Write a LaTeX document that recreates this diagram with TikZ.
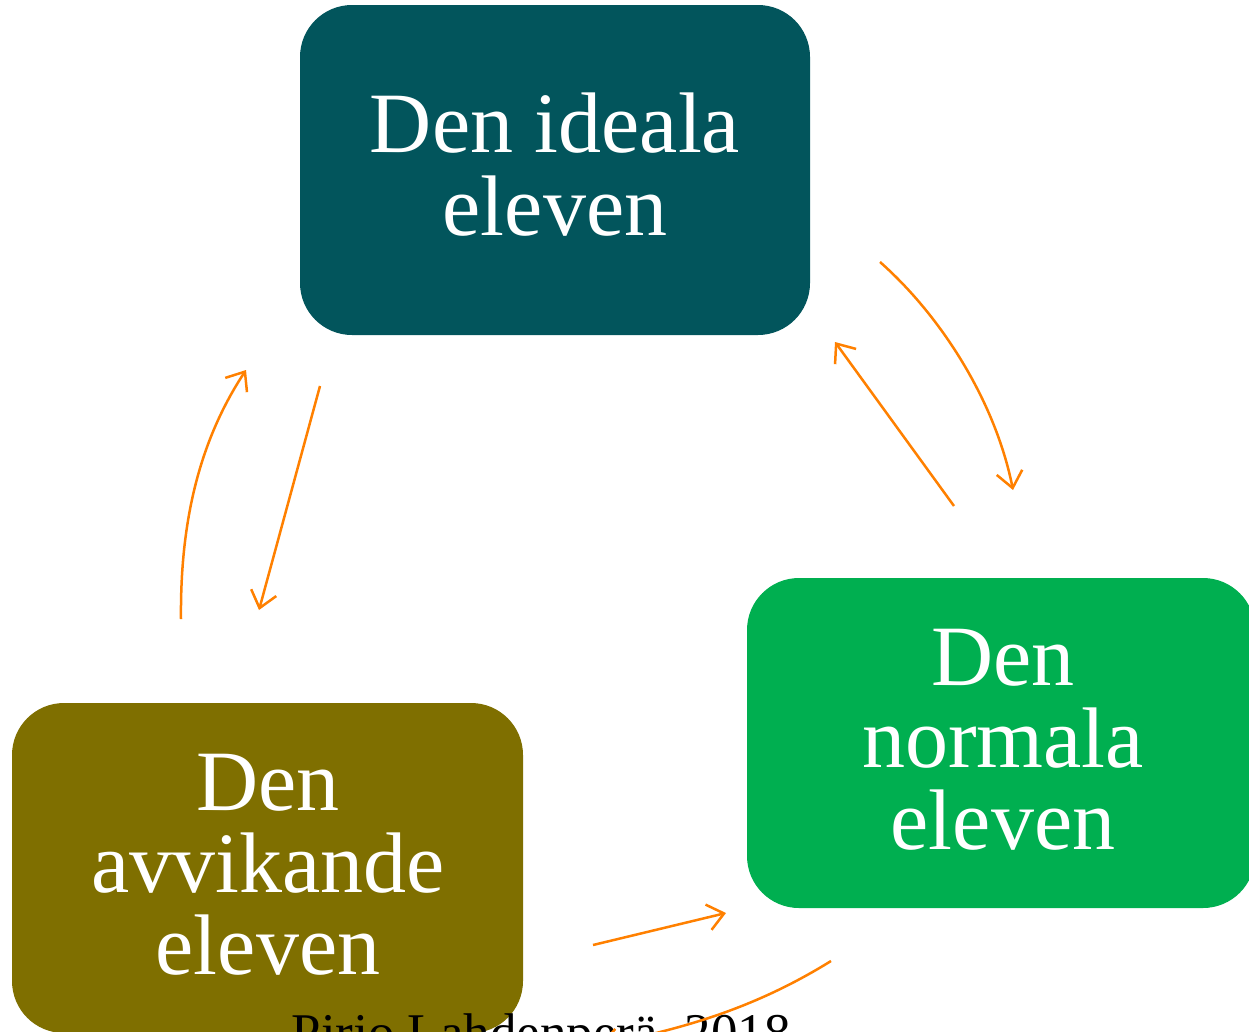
\documentclass[tikz,border=0pt]{standalone}
\usepackage{fontspec}
\setmainfont{Liberation Serif}
\usetikzlibrary{arrows.meta}
\definecolor{idealc}{HTML}{02555C}
\definecolor{avvc}{HTML}{7F6F00}
\definecolor{normc}{HTML}{00AF50}
\definecolor{arrc}{HTML}{FF8000}
\begin{document}
\begin{tikzpicture}[x=1pt,y=-1pt,
  box/.style={rounded corners=52pt, minimum width=510pt, minimum height=330pt, inner sep=0pt, draw=none},
  boxtext/.style={text=white, font=\fontsize{86}{83}\selectfont, anchor=base, inner sep=0pt},
  conn/.style={draw=arrc, line width=2.5pt, -{Straight Barb[length=16pt,width=26pt]}}]
\useasboundingbox (0,0) rectangle (1249,1031);
% boxes
\node[box, fill=idealc] (ideal) at (555,170) {};
\node[box, fill=normc, minimum width=508pt] (normal) at (1001,743) {};
\node[box, fill=avvc, minimum width=511pt] (avv) at (267.5,868) {};
% texts
\node[boxtext] (i1) at (555,152) {Den ideala};
\node[boxtext] (i2) at (555,235) {eleven};
\node[boxtext] (n1) at (1003,685) {Den};
\node[boxtext] (n2) at (1003,767) {normala};
\node[boxtext] (n3) at (1003,849) {eleven};
\node[boxtext] (a1) at (268,810) {Den};
\node[boxtext] (a2) at (268,892) {avvikande};
\node[boxtext] (a3) at (268,974) {eleven};
\node[anchor=base, inner sep=0pt, font=\fontsize{53}{60}\selectfont] (author) at (541,1050) {Pirjo Lahdenperä, 2018};
% connector end points
\coordinate (c1s) at (181,619); \coordinate (c1e) at (246,370);
\coordinate (c2s) at (320,386); \coordinate (c2e) at (259,610);
\coordinate (c3s) at (880,262); \coordinate (c3e) at (1013,490);
\coordinate (c4s) at (954,506); \coordinate (c4e) at (835,342);
\coordinate (c5s) at (593,945); \coordinate (c5e) at (726,913);
\coordinate (c6s) at (831,961); \coordinate (c6e) at (600,1045);
% connectors
\draw[conn] (c1s) .. controls (180,520) and (200,440) .. (c1e);
\draw[conn] (c2s) -- (c2e);
\draw[conn] (c3s) .. controls (940,315) and (995,400) .. (c3e);
\draw[conn] (c4s) -- (c4e);
\draw[conn] (c5s) -- (c5e);
\draw[conn] (c6s) .. controls (760,1005) and (690,1028) .. (c6e);
\end{tikzpicture}
\end{document}
